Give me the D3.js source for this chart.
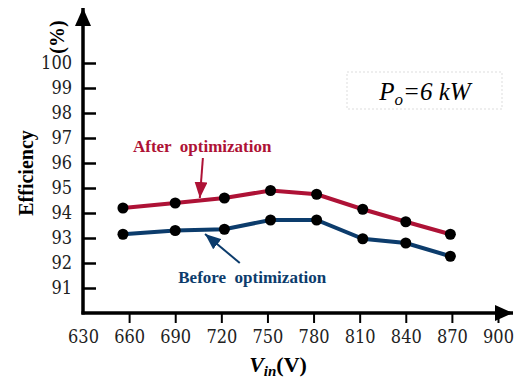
<!DOCTYPE html>
<html>
<head>
<meta charset="utf-8">
<script src="https://cdn.jsdelivr.net/npm/d3@7"></script>
<style>
    body { margin: 0; background: #fff; }
</style>
</head>
<body>
<svg id="chart"></svg>
<script>
// input voltage (V)
const vin = [656, 690, 722, 752, 782, 812, 840, 869];
// efficiency (%)
const afterOpt = [94.2, 94.4, 94.6, 94.9, 94.75, 94.15, 93.65, 93.15];
const beforeOpt = [93.15, 93.3, 93.35, 93.72, 93.72, 92.97, 92.8, 92.27];
const xTicks = [630, 660, 690, 720, 750, 780, 810, 840, 870, 900];
const yTicks = [91, 92, 93, 94, 95, 96, 97, 98, 99, 100];

const size = { width: 514, height: 378 };
const serif = "'Liberation Serif', 'Times New Roman', serif";
const tickFont = "'DejaVu Serif Condensed', 'DejaVu Serif', serif";
const red = "#ae1236";
const blue = "#0c3c6c";

const svg = d3.select("#chart")
    .attr("width", size.width)
    .attr("height", size.height)
    .attr("font-family", serif);

const x = d3.scaleLinear().domain([630, 900]).range([83, 498]);
const y = d3.scaleLinear().domain([91, 100]).range([288, 63]);
const x0 = 83, y0 = 313;

// arrow heads
const defs = svg.append("defs");
function addMarker(id, color, w, h) {
    defs.append("marker")
        .attr("id", id)
        .attr("viewBox", "0 0 " + w + " " + h)
        .attr("refX", w).attr("refY", h / 2)
        .attr("markerWidth", w).attr("markerHeight", h)
        .attr("markerUnits", "userSpaceOnUse")
        .attr("orient", "auto")
        .append("path")
        .attr("d", "M0,0L" + w + "," + (h / 2) + "L0," + h + "Z")
        .attr("fill", color);
}
addMarker("axisHead", "#000", 18, 16);
addMarker("redHead", red, 16, 13);
addMarker("blueHead", blue, 16, 13);

// axes
const yAxis = svg.append("g")
    .attr("transform", "translate(" + x0 + ",0)")
    .call(d3.axisLeft(y).tickValues(yTicks).tickSizeInner(-13).tickSizeOuter(0).tickPadding(11))
    .attr("font-family", tickFont);
yAxis.select(".domain").remove();
yAxis.selectAll("line").attr("stroke-width", 2.5);
yAxis.selectAll("text").attr("font-size", 18).attr("fill", "#222");

const xAxis = svg.append("g")
    .attr("transform", "translate(0," + y0 + ")")
    .call(d3.axisBottom(x).tickValues(xTicks).tickSizeInner(10).tickSizeOuter(0).tickPadding(7))
    .attr("font-family", tickFont);
xAxis.select(".domain").remove();
xAxis.selectAll("line").attr("stroke-width", 2);
xAxis.selectAll(".tick").filter(d => d === 630).select("line").remove();
xAxis.selectAll("text").attr("font-size", 18).attr("fill", "#222");

svg.append("line")
    .attr("x1", x0).attr("y1", y0 + 1.5)
    .attr("x2", x0).attr("y2", 8)
    .attr("stroke", "#000").attr("stroke-width", 3.5)
    .attr("marker-end", "url(#axisHead)");
svg.append("line")
    .attr("x1", x0 - 1.5).attr("y1", y0)
    .attr("x2", 513).attr("y2", y0)
    .attr("stroke", "#000").attr("stroke-width", 3.5)
    .attr("marker-end", "url(#axisHead)");

// axis titles
svg.append("text")
    .attr("transform", "translate(33,173) rotate(-90)")
    .attr("text-anchor", "middle")
    .attr("font-size", 20).attr("font-weight", "bold")
    .text("Efficiency");
svg.append("text")
    .attr("transform", "translate(64,37) rotate(-90)")
    .attr("text-anchor", "middle")
    .attr("font-size", 20).attr("font-weight", "bold")
    .text("(%)");

const xt = svg.append("text")
    .attr("x", 278).attr("y", 372)
    .attr("text-anchor", "middle")
    .attr("font-size", 22).attr("font-weight", "bold");
xt.append("tspan").attr("font-style", "italic").text("V");
xt.append("tspan").attr("font-style", "italic").attr("font-size", 15).attr("dy", 4).text("in");
xt.append("tspan").attr("dy", -4).text("(V)");

// series
const line = d3.line().x(d => x(d[0])).y(d => y(d[1]));
function drawSeries(values, color) {
    const pts = vin.map((v, i) => [v, values[i]]);
    svg.append("path")
        .datum(pts)
        .attr("d", line)
        .attr("fill", "none")
        .attr("stroke", color)
        .attr("stroke-width", 4);
    svg.append("g").selectAll("circle")
        .data(pts)
        .enter()
        .append("circle")
        .attr("cx", d => x(d[0]))
        .attr("cy", d => y(d[1]))
        .attr("r", 5.5)
        .attr("fill", "#000");
}
drawSeries(afterOpt, red);
drawSeries(beforeOpt, blue);

// annotations
svg.append("text")
    .attr("x", x(662.5)).attr("y", y(96.44))
    .attr("font-size", 17).attr("font-weight", "bold")
    .attr("fill", red)
    .style("white-space", "pre")
    .text("After  optimization");
svg.append("line")
    .attr("x1", x(708)).attr("y1", y(96.2))
    .attr("x2", x(706)).attr("y2", y(94.6))
    .attr("stroke", red).attr("stroke-width", 2)
    .attr("marker-end", "url(#redHead)");

svg.append("text")
    .attr("x", x(692)).attr("y", y(91.2))
    .attr("font-size", 17).attr("font-weight", "bold")
    .attr("fill", blue)
    .style("white-space", "pre")
    .text("Before  optimization");
svg.append("line")
    .attr("x1", x(732)).attr("y1", y(92.0))
    .attr("x2", x(709.4)).attr("y2", y(93.16))
    .attr("stroke", blue).attr("stroke-width", 2)
    .attr("marker-end", "url(#blueHead)");

// power box
svg.append("rect")
    .attr("x", 347).attr("y", 72)
    .attr("width", 155).attr("height", 37)
    .attr("fill", "none")
    .attr("stroke", "#ddd")
    .attr("stroke-dasharray", "2,2");
const pt = svg.append("text")
    .attr("x", 425).attr("y", 100)
    .attr("text-anchor", "middle")
    .attr("font-size", 25).attr("font-style", "italic");
pt.append("tspan").text("P");
pt.append("tspan").attr("font-size", 17).attr("dy", 5).text("o");
pt.append("tspan").attr("dy", -5).text("=6 kW");
</script>
</body>
</html>
